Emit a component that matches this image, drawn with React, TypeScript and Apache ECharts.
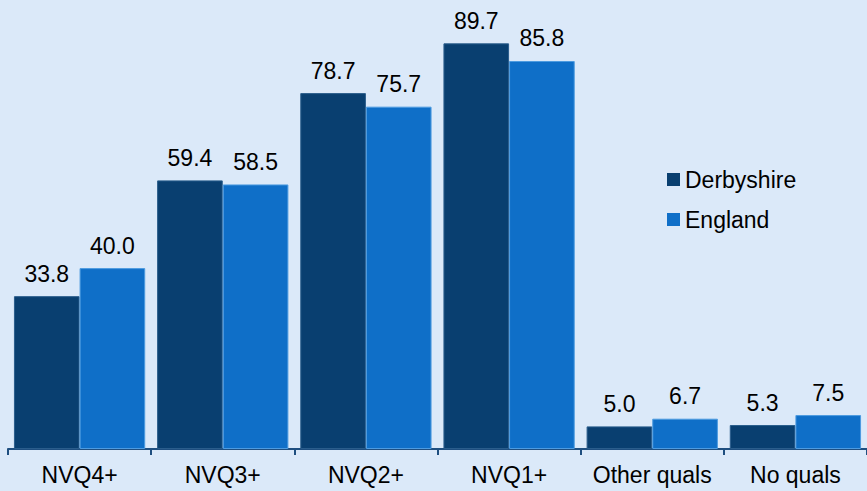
import React, { useEffect, useRef } from "react";
import * as echarts from "echarts";

const categories = ["NVQ4+", "NVQ3+", "NVQ2+", "NVQ1+", "Other quals", "No quals"];
const derbyshire = [33.8, 59.4, 78.7, 89.7, 5.0, 5.3];
const england = [40.0, 58.5, 75.7, 85.8, 6.7, 7.5];

const FONT = "Liberation Sans, Arial, sans-serif";

export default function App() {
  const ref = useRef<HTMLDivElement>(null);
  useEffect(() => {
    if (!ref.current) return;
    const chart = echarts.init(ref.current, null, { renderer: "svg" });
    const label = {
      show: true,
      position: "top" as const,
      distance: 11,
      color: "#000",
      fontFamily: FONT,
      fontSize: 23,
      formatter: (p: any) => Number(p.value).toFixed(1),
    };
    chart.setOption({
      animation: false,
      backgroundColor: "#dbe9f9",
      grid: { left: 8, top: 42, width: 864, height: 407, containLabel: false },
      legend: {
        orient: "vertical",
        left: 662,
        top: 163,
        itemWidth: 13,
        itemHeight: 13,
        itemGap: 17,
        icon: "rect",
        itemStyle: { borderWidth: 0 },
        textStyle: {
          color: "#000",
          fontFamily: FONT,
          fontSize: 23,
        },
        data: ["Derbyshire", "England"],
      },
      xAxis: {
        type: "category",
        data: categories,
        axisLine: { lineStyle: { color: "#1f4f80", width: 2 } },
        axisTick: { show: true, length: 6, lineStyle: { color: "#1f4f80", width: 2 } },
        axisLabel: {
          color: "#000",
          fontFamily: FONT,
          fontSize: 23,
          margin: 14,
          interval: 0,
        },
      },
      yAxis: {
        type: "value",
        min: 0,
        max: 90,
        show: false,
        splitLine: { show: false },
      },
      series: [
        {
          name: "Derbyshire",
          type: "bar",
          data: derbyshire,
          barGap: "0%",
          barCategoryGap: "8.3%",
          itemStyle: { color: "#093f70", borderColor: "#2a5d8c", borderWidth: 1 },
          label,
        },
        {
          name: "England",
          type: "bar",
          data: england,
          itemStyle: { color: "#0f6fc8", borderColor: "#4d9be0", borderWidth: 1 },
          label,
        },
      ],
    });
    return () => chart.dispose();
  }, []);
  return (
    <div
      ref={ref}
      style={{ position: "fixed", left: 0, top: 0, width: 867, height: 491 }}
    />
  );
}
